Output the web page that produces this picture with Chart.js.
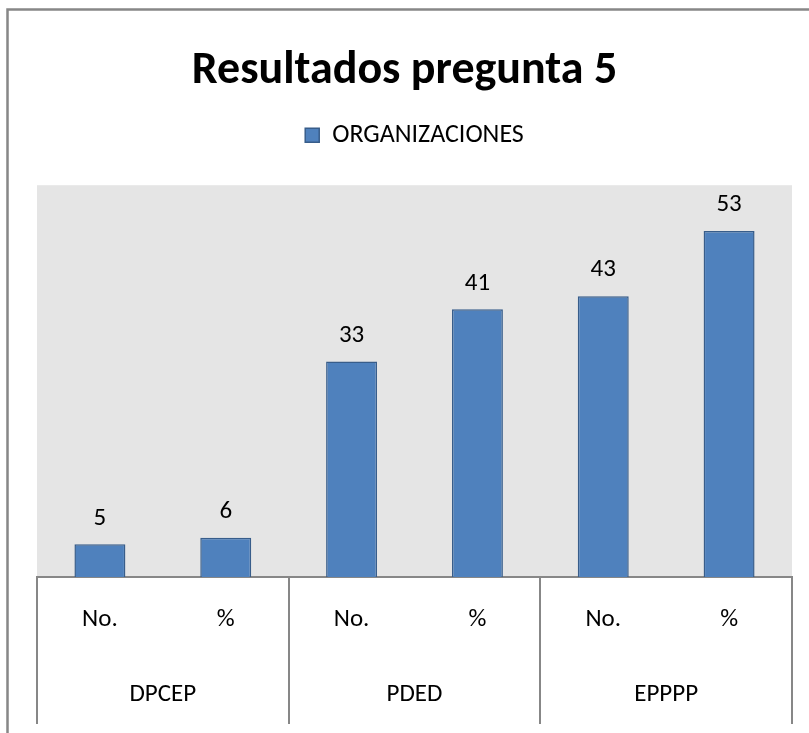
<!DOCTYPE html>
<html><head><meta charset="utf-8">
<script src="https://cdn.jsdelivr.net/npm/chart.js@4.4.0/dist/chart.umd.min.js"></script>
<style>html,body{margin:0;padding:0;background:#fff}#wrap{width:809px;height:733px;position:relative}</style>
</head><body><div id="wrap"><canvas id="c" width="809" height="733"></canvas></div>
<script>
// ---- data ----
const titleText = 'Resultados pregunta 5';
const seriesName = 'ORGANIZACIONES';
const groups = ['DPCEP', 'PDED', 'EPPPP'];
const subLabels = ['No.', '%', 'No.', '%', 'No.', '%'];
const values = [5, 6, 33, 41, 43, 53];
const yMax = 60;

const FONT = 'Carlito, Lato, "Open Sans", sans-serif';
const LINE = '#878787';
const LABEL_SIZE = 25;
const TITLE_SIZE = 46;
const TITLE_PAD_TOP = 44;

const framePlugin = {
  id: 'frame',
  beforeDraw(chart) {
    const ctx = chart.ctx, a = chart.chartArea;
    ctx.save();
    ctx.fillStyle = '#ffffff';
    ctx.fillRect(0, 0, chart.width, chart.height);
    ctx.strokeStyle = LINE; ctx.lineWidth = 2.5;
    ctx.beginPath();
    ctx.moveTo(7.5, chart.height + 5); ctx.lineTo(7.5, 9.5); ctx.lineTo(chart.width + 5, 9.5);
    ctx.stroke();
    ctx.fillStyle = '#e5e5e5';
    ctx.fillRect(a.left, a.top, a.right - a.left, a.bottom - a.top);
    ctx.restore();
  },
  afterDraw(chart) {
    const ctx = chart.ctx, a = chart.chartArea, x = chart.scales.x;
    ctx.save();
    // title centred on the whole chart (Chart.js reserves its space)
    const tb = chart.titleBlock;
    ctx.fillStyle = '#000';
    ctx.font = 'bold ' + TITLE_SIZE + 'px ' + FONT;
    ctx.textAlign = 'center'; ctx.textBaseline = 'middle';
    ctx.fillText(titleText, chart.width / 2, tb.top + TITLE_PAD_TOP + TITLE_SIZE * 1.2 / 2);
    // category separators
    ctx.strokeStyle = LINE; ctx.lineWidth = 2;
    const yTop = a.bottom, yBot = a.bottom + 147;
    const bounds = [a.left];
    for (let g = 1; g < groups.length; g++) {
      bounds.push((x.getPixelForValue(2 * g - 1) + x.getPixelForValue(2 * g)) / 2);
    }
    bounds.push(a.right);
    ctx.beginPath();
    bounds.forEach(b => { const bx = Math.round(b); ctx.moveTo(bx, yTop); ctx.lineTo(bx, yBot); });
    ctx.stroke();
    // group labels
    ctx.font = LABEL_SIZE + 'px ' + FONT;
    groups.forEach((g, i) => {
      const cx = (x.getPixelForValue(2 * i) + x.getPixelForValue(2 * i + 1)) / 2;
      ctx.fillText(g, cx, a.bottom + 118);
    });
    ctx.restore();
  },
  afterDatasetsDraw(chart) {
    const ctx = chart.ctx;
    const meta = chart.getDatasetMeta(0);
    ctx.save();
    ctx.fillStyle = '#000';
    ctx.font = LABEL_SIZE + 'px ' + FONT;
    ctx.textAlign = 'center'; ctx.textBaseline = 'middle';
    meta.data.forEach((el, i) => {
      ctx.fillText(String(values[i]), el.x, el.y - 26);
    });
    ctx.restore();
  }
};

new Chart(document.getElementById('c'), {
  type: 'bar',
  data: {
    labels: subLabels,
    datasets: [{
      label: seriesName,
      data: values,
      backgroundColor: '#4f81bd',
      borderColor: '#385d8a',
      borderWidth: 1.5,
      barPercentage: 0.405,
      categoryPercentage: 1
    }]
  },
  options: {
    responsive: false,
    devicePixelRatio: 1,
    animation: false,
    layout: { padding: { left: 37, right: 17, top: 0, bottom: 0 } },
    scales: {
      x: {
        position: 'bottom',
        grid: { display: false, drawTicks: false, tickLength: 0 },
        border: { display: true, color: LINE, width: 2 },
        ticks: { color: '#000', font: { family: FONT, size: LABEL_SIZE }, padding: 28, maxRotation: 0, autoSkip: false },
        afterFit(s) { s.height = 156; }
      },
      spacer: {
        type: 'category',
        position: 'top',
        grid: { display: false, drawTicks: false },
        border: { display: false },
        ticks: { display: false },
        afterFit(s) { s.height = 27; }
      },
      y: { display: false, min: 0, max: yMax }
    },
    plugins: {
      title: {
        display: true,
        text: titleText,
        color: 'rgba(0,0,0,0)',
        font: { family: FONT, size: TITLE_SIZE, weight: 'bold' },
        padding: { top: TITLE_PAD_TOP, bottom: 13 }
      },
      legend: {
        display: true,
        position: 'top',
        labels: {
          color: '#000',
          boxWidth: 14,
          boxHeight: 14,
          padding: 10,
          font: { family: FONT, size: 26 }
        }
      },
      tooltip: { enabled: false }
    }
  },
  plugins: [framePlugin]
});
</script>
</body></html>
